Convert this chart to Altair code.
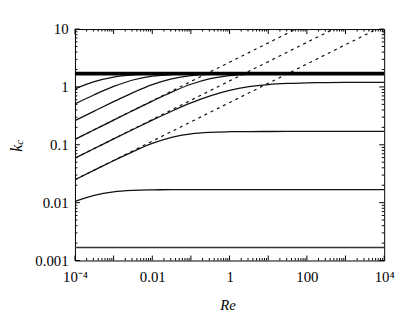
import altair as alt
import pandas as pd

# Re sample points (half-decade steps, 1e-4 .. 1e4)
re_grid = [1e-4, 3.162e-4, 1e-3, 3.162e-3, 1e-2, 3.162e-2, 1e-1, 3.162e-1,
           1.0, 3.162, 10.0, 31.62, 100.0, 316.2, 1000.0, 3162.0, 1e4]

# solid curves k_c(Re)
k_curve1 = [0.9265, 1.2325, 1.4804, 1.6163, 1.6720, 1.6910, 1.698]
k_curve2 = [0.5086, 0.7329, 1.020, 1.3176, 1.5329, 1.6393, 1.6798, 1.6937, 1.6983]
k_curve3 = [0.2612, 0.3825, 0.5567, 0.7977, 1.0947, 1.380, 1.568, 1.653, 1.685,
            1.695, 1.698]
k_curve4 = [0.1241, 0.1821, 0.2672, 0.3914, 0.5691, 0.8140, 1.1127, 1.3945, 1.575,
            1.656, 1.686, 1.697, 1.700]
k_curve5 = [0.05887, 0.08619, 0.1262, 0.1840, 0.2665, 0.3804, 0.5285, 0.7013, 0.8718,
            1.0085, 1.099, 1.150, 1.176, 1.189, 1.195, 1.198, 1.199]
k_curve6 = [0.02489, 0.03641, 0.05306, 0.07625, 0.1055, 0.1347, 0.1550, 0.1646, 0.1682,
            0.1694, 0.1698, 0.1700, 0.1700, 0.1700, 0.1700, 0.1700, 0.1700]
k_curve7 = [0.01053, 0.01341, 0.01537, 0.01629, 0.01663, 0.01675, 0.01679, 0.0168,
            0.0168, 0.0168, 0.0168, 0.0168, 0.0168, 0.0168, 0.0168, 0.0168, 0.0168]

# horizontal limit lines
limit_re = [1e-4, 1e4]
k_upper = 1.70
k_lower = 0.00168

# dashed asymptotes (start at Re=1e-4, end at top of frame)
asym_k_start = [0.1242, 0.0589, 0.0249]
asym_re_end = [52.2, 488.7, 6486.0]
asym_k_end = 10.0

# axis ticks
x_label_values = [1e-4, 1e-2, 1.0, 100.0, 1e4]
y_label_values = [0.001, 0.01, 0.1, 1.0, 10.0]
x_decades = [1e-4, 1e-3, 1e-2, 1e-1, 1.0, 10.0, 100.0, 1000.0, 1e4]
y_decades = [1e-3, 1e-2, 1e-1, 1.0, 10.0]
minor_mult = [2, 3, 4, 5, 6, 7, 8, 9]

curves = [k_curve1, k_curve2, k_curve3, k_curve4, k_curve5, k_curve6, k_curve7]
rows = []
for i, ks in enumerate(curves):
    for re, k in zip(re_grid, ks):
        rows.append({"Re": re, "k": k, "curve": f"c{i+1}"})
df_curves = pd.DataFrame(rows)

df_upper = pd.DataFrame({"Re": limit_re, "k": [k_upper, k_upper]})
df_lower = pd.DataFrame({"Re": limit_re, "k": [k_lower, k_lower]})

arows = []
for i, (ks, re_e) in enumerate(zip(asym_k_start, asym_re_end)):
    arows.append({"Re": 1e-4, "k": ks, "curve": f"a{i}"})
    arows.append({"Re": re_e, "k": asym_k_end, "curve": f"a{i}"})
df_asym = pd.DataFrame(arows)

x_major = pd.DataFrame({"Re": x_decades})
x_minor = pd.DataFrame({"Re": [m * d for d in x_decades[:-1] for m in minor_mult]})
y_major = pd.DataFrame({"k": y_decades})
y_minor = pd.DataFrame({"k": [m * d for d in y_decades[:-1] for m in minor_mult]})

W, H = 314, 235
SERIF = "Liberation Serif, Times New Roman, serif"
x_scale = alt.Scale(type="log", domain=[1e-4, 1e4], nice=False)
y_scale = alt.Scale(type="log", domain=[1e-3, 10], nice=False)

x_axis = alt.Axis(
    values=x_label_values,
    labelExpr="datum.value < 0.001 ? '10⁻⁴' : datum.value > 1000 ? '10⁴' : datum.value < 0.1 ? '0.01' : datum.value < 10 ? '1' : '100'",
    ticks=False, tickSize=0, domain=False, grid=False, labelPadding=9,
    labelFlush=False, labelOverlap=False,
    labelFont=SERIF, labelFontSize=15, labelColor="black",
    title="Re", titleFontStyle="italic", titleFontWeight="normal", titleFontSize=15,
    titleFont=SERIF, titleColor="black",
    titleY=45, titleX=155, titleBaseline="middle",
)
y_axis = alt.Axis(
    values=y_label_values,
    labelExpr="datum.value < 0.005 ? '0.001' : datum.value < 0.05 ? '0.01' : datum.value < 0.5 ? '0.1' : datum.value < 5 ? '1' : '10'",
    ticks=False, tickSize=0, domain=False, grid=False, labelPadding=7,
    labelFlush=False, labelOverlap=False,
    labelFont=SERIF, labelFontSize=15, labelColor="black",
    title=None,
)

X = lambda: alt.X("Re:Q", scale=x_scale, axis=x_axis)
Y = lambda: alt.Y("k:Q", scale=y_scale, axis=y_axis)

def xticks(df, length):
    bottom = alt.Chart(df).mark_rule(color="black", strokeWidth=1).encode(
        x=X(), y=alt.value(H), y2=alt.value(H - length))
    top = alt.Chart(df).mark_rule(color="black", strokeWidth=1).encode(
        x=X(), y=alt.value(0), y2=alt.value(length))
    return bottom + top

def yticks(df, length):
    left = alt.Chart(df).mark_rule(color="black", strokeWidth=1).encode(
        y=Y(), x=alt.value(0), x2=alt.value(length))
    right = alt.Chart(df).mark_rule(color="black", strokeWidth=1).encode(
        y=Y(), x=alt.value(W), x2=alt.value(W - length))
    return left + right

ticks = xticks(x_major, 5) + xticks(x_minor, 2.5) + yticks(y_major, 5) + yticks(y_minor, 2.5)

solid = alt.Chart(df_curves).mark_line(
    interpolate="monotone", color="#111111", strokeWidth=1.3, clip=True
).encode(x=X(), y=Y(), detail="curve:N")

dashed = alt.Chart(df_asym).mark_line(
    color="#111111", strokeWidth=1.2, strokeDash=[3, 4], clip=True
).encode(x=X(), y=Y(), detail="curve:N")

upper = alt.Chart(df_upper).mark_line(color="black", strokeWidth=4).encode(x=X(), y=Y())
lower = alt.Chart(df_lower).mark_line(color="#333333", strokeWidth=1.6).encode(x=X(), y=Y())

one = pd.DataFrame({"t": [0]})
k_title = alt.Chart(one).mark_text(
    font=SERIF, fontStyle="italic", fontSize=16, angle=270,
    align="center", baseline="middle", fill="black", color="black"
).encode(x=alt.value(-59), y=alt.value(121), text=alt.value("k"))
c_sub = alt.Chart(one).mark_text(
    font=SERIF, fontStyle="italic", fontSize=11, angle=270,
    align="center", baseline="middle", fill="black", color="black"
).encode(x=alt.value(-56), y=alt.value(115), text=alt.value("c"))

chart = alt.layer(solid, ticks, dashed, upper, lower, k_title, c_sub).properties(
    width=W, height=H,
    autosize=alt.AutoSizeParams(type="none"),
    padding={"left": 68, "top": 19, "right": 12, "bottom": 57},
    background="white",
).configure_view(
    stroke="black", strokeWidth=1
).configure_axis(
    labelFont=SERIF, titleFont=SERIF
)

chart.save("out.html", embed_options={"renderer": "svg", "actions": False})
